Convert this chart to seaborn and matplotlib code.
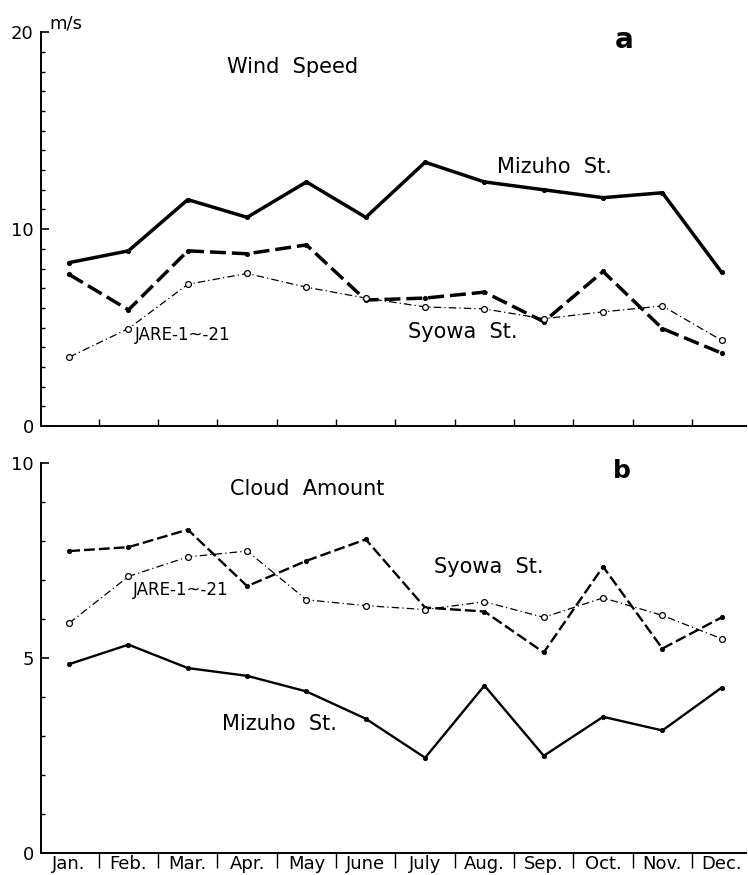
import matplotlib
matplotlib.use("Agg")
import matplotlib.pyplot as plt
import seaborn as sns
import numpy as np
import pandas as pd
from matplotlib.ticker import MultipleLocator, FixedLocator, NullFormatter, FixedFormatter

# Monthly means
months = ["Jan.", "Feb.", "Mar.", "Apr.", "May", "June",
          "July", "Aug.", "Sep.", "Oct.", "Nov.", "Dec."]

wind_mizuho = [8.3, 8.9, 11.5, 10.6, 12.4, 10.6, 13.4, 12.4, 12.0, 11.6, 11.85, 7.8]
wind_syowa = [7.7, 5.9, 8.9, 8.75, 9.2, 6.4, 6.5, 6.8, 5.3, 7.85, 4.95, 3.7]
wind_jare = [3.5, 4.95, 7.2, 7.75, 7.05, 6.5, 6.05, 5.95, 5.45, 5.8, 6.1, 4.35]

cloud_mizuho = [4.85, 5.35, 4.75, 4.55, 4.15, 3.45, 2.45, 4.3, 2.5, 3.5, 3.15, 4.25]
cloud_syowa = [7.75, 7.85, 8.3, 6.85, 7.5, 8.05, 6.3, 6.2, 5.15, 7.35, 5.25, 6.05]
cloud_jare = [5.9, 7.1, 7.6, 7.75, 6.5, 6.35, 6.25, 6.45, 6.05, 6.55, 6.1, 5.5]

sns.set_style("white")
plt.rcParams["font.family"] = ["DejaVu Sans"]
plt.rcParams["text.color"] = "black"
plt.rcParams["xtick.color"] = "black"
plt.rcParams["ytick.color"] = "black"
plt.rcParams["axes.edgecolor"] = "black"

idx = np.arange(len(months))
wind = pd.DataFrame({"m": idx, "Mizuho": wind_mizuho, "Syowa": wind_syowa, "JARE": wind_jare})
cloud = pd.DataFrame({"m": idx, "Mizuho": cloud_mizuho, "Syowa": cloud_syowa, "JARE": cloud_jare})

fig = plt.figure(figsize=(7.48, 8.75), dpi=100)
ax1 = fig.add_axes([0.0544, 0.5131, 0.943, 0.450])
ax2 = fig.add_axes([0.0544, 0.0248, 0.943, 0.4457])


def draw_series(ax, df, heavy, light):
    # Mizuho St.: solid heavy line with dots
    sns.lineplot(data=df, x="m", y="Mizuho", ax=ax, color="black", linewidth=heavy,
                 linestyle="-", marker="o", markersize=3.2, markerfacecolor="black",
                 markeredgecolor="black", markeredgewidth=0.5, sort=False)
    # Syowa St.: heavy dashed line with dots
    sns.lineplot(data=df, x="m", y="Syowa", ax=ax, color="black", linewidth=heavy,
                 linestyle=(0, (4.6, 1.7)), marker="o", markersize=3.2,
                 markerfacecolor="black", markeredgecolor="black",
                 markeredgewidth=0.5, sort=False)
    # JARE-1~-21: thin dash-dot line with open circles
    sns.lineplot(data=df, x="m", y="JARE", ax=ax, color="black", linewidth=light,
                 linestyle=(0, (6, 2.5, 1, 2.5)), marker="o", markersize=4.2,
                 markerfacecolor="white", markeredgecolor="black",
                 markeredgewidth=0.9, sort=False)


draw_series(ax1, wind, 2.5, 0.9)
draw_series(ax2, cloud, 1.7, 0.9)

half = idx[:-1] + 0.5
for ax, top, major in ((ax1, 20, 10), (ax2, 10, 5)):
    ax.set_xlim(-0.48, 11.41)
    ax.set_ylim(0, top)
    ax.set_xlabel("")
    ax.set_ylabel("")
    sns.despine(ax=ax)
    for s in ("left", "bottom"):
        ax.spines[s].set_linewidth(1.4)
        ax.spines[s].set_color("black")
    ax.yaxis.set_major_locator(MultipleLocator(major))
    ax.yaxis.set_minor_locator(MultipleLocator(1))
    ax.tick_params(axis="y", which="major", left=True, direction="in", length=6,
                   width=1.2, labelsize=13, pad=5, colors="black")
    ax.tick_params(axis="y", which="minor", left=True, direction="in", length=3,
                   width=1.0, colors="black")
    ax.xaxis.set_minor_locator(FixedLocator(half))

# top panel: short inward ticks between months, no month names
ax1.xaxis.set_major_locator(FixedLocator([]))
ax1.xaxis.set_minor_formatter(NullFormatter())
ax1.tick_params(axis="x", which="minor", bottom=True, direction="in", length=5,
                width=1.0, colors="black")

# bottom panel: month names with separators between them
ax2.xaxis.set_major_locator(FixedLocator(idx))
ax2.xaxis.set_major_formatter(FixedFormatter(months))
ax2.xaxis.set_minor_formatter(NullFormatter())
ax2.tick_params(axis="x", which="major", bottom=True, length=0, labelsize=13, pad=1,
                colors="black")
ax2.tick_params(axis="x", which="minor", bottom=True, direction="out", length=11,
                width=1.0, colors="black")

# panel a annotations
ax1.text(-0.33, 20.21, "m/s", fontsize=13, ha="left", va="baseline", clip_on=False)
ax1.text(2.66, 17.93, "Wind  Speed", fontsize=15, ha="left", va="baseline")
ax1.text(9.2, 19.2, "a", fontsize=20, fontweight="bold", ha="left", va="baseline")
ax1.text(7.21, 12.86, "Mizuho  St.", fontsize=15, ha="left", va="baseline")
ax1.text(1.11, 4.37, "JARE-1~-21", fontsize=12, ha="left", va="baseline")
ax1.text(5.71, 4.47, "Syowa  St.", fontsize=15, ha="left", va="baseline")

# panel b annotations
ax2.text(2.71, 9.19, "Cloud  Amount", fontsize=15, ha="left", va="baseline")
ax2.text(9.17, 9.62, "b", fontsize=18, fontweight="bold", ha="left", va="baseline")
ax2.text(1.07, 6.62, "JARE-1~-21", fontsize=12, ha="left", va="baseline")
ax2.text(6.15, 7.18, "Syowa  St.", fontsize=15, ha="left", va="baseline")
ax2.text(2.57, 3.16, "Mizuho  St.", fontsize=15, ha="left", va="baseline")

fig.savefig("out.png", dpi=100, facecolor="white")
